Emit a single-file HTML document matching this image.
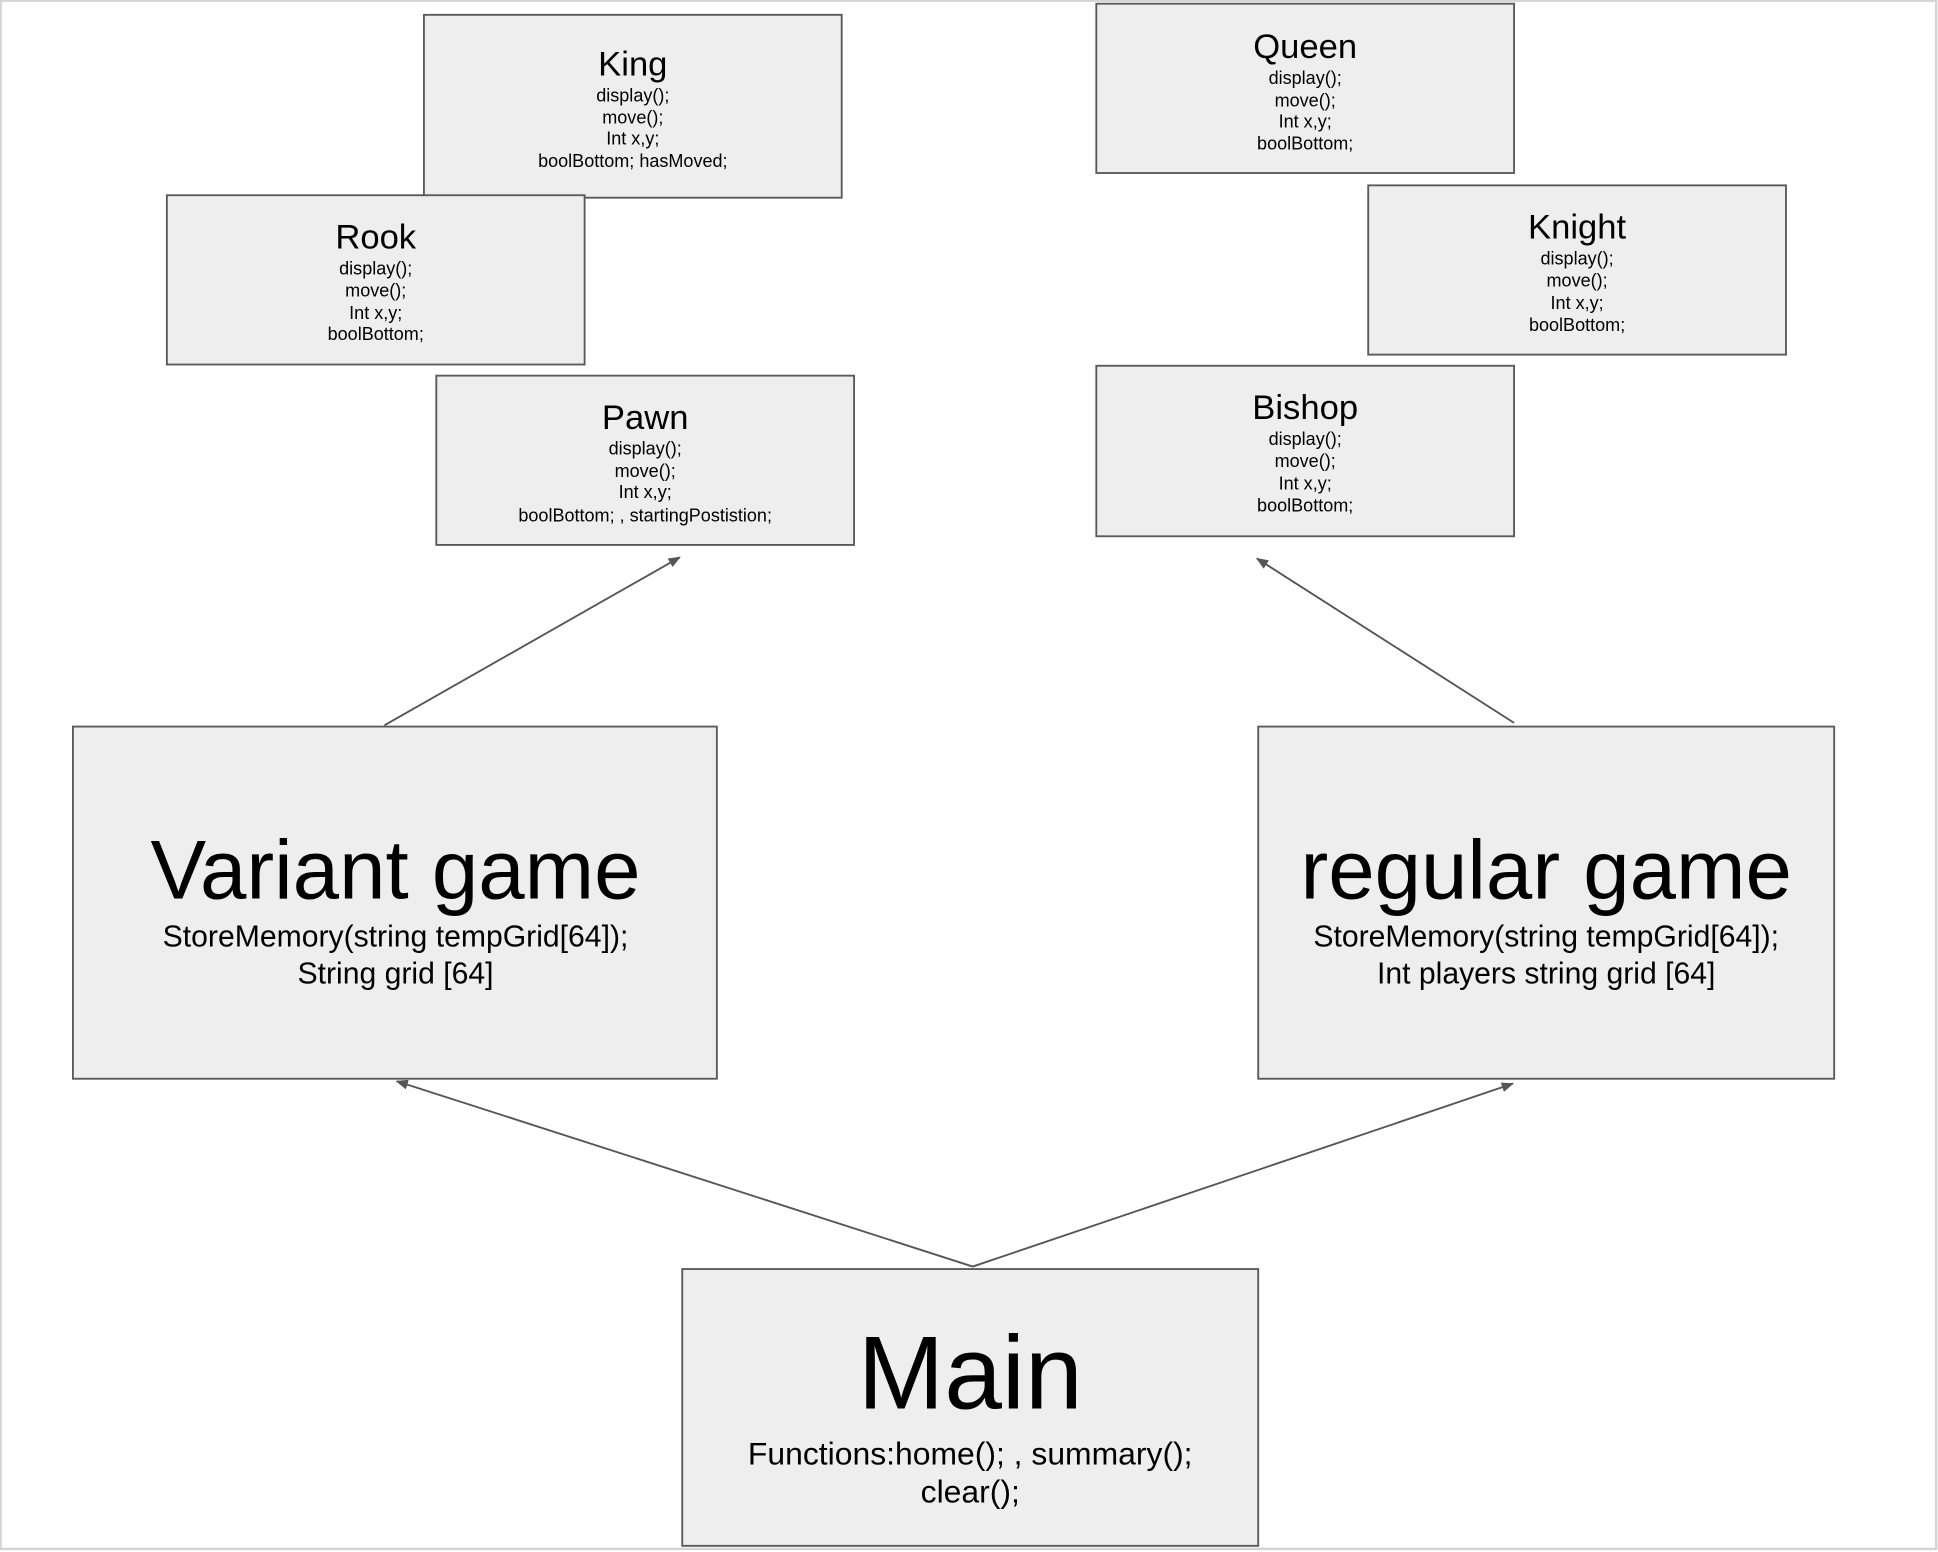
<!DOCTYPE html>
<html><head><meta charset="utf-8"><style>
html,body{margin:0;padding:0;background:#fff;}
svg{display:block;}
text{font-family:"Liberation Sans",Arial,sans-serif;fill:#000;text-anchor:middle;}
</style></head><body>
<svg width="1938" height="1552" viewBox="0 0 1568 1256" preserveAspectRatio="none" xmlns="http://www.w3.org/2000/svg">
<defs><marker id="a" markerWidth="10" markerHeight="8" refX="9" refY="4" orient="auto" markerUnits="userSpaceOnUse"><path d="M0,0 L10,4 L0,8 Z" fill="#555"/></marker></defs>
<rect x="0.5" y="0.5" width="1566" height="1253" fill="#fff" stroke="#d4d4d4" stroke-width="2"/>
<g fill="#eeeeee" stroke="#595959" stroke-width="1.5">
<rect x="343" y="12" width="338" height="148"/>
<rect x="135" y="158" width="338" height="137"/>
<rect x="353" y="304" width="338" height="137"/>
<rect x="887" y="3" width="338" height="137"/>
<rect x="1107" y="150" width="338" height="137"/>
<rect x="887" y="296" width="338" height="138"/>
<rect x="59" y="588" width="521" height="285"/>
<rect x="1018" y="588" width="466" height="285"/>
<rect x="552" y="1027" width="466" height="224"/>
</g>
<g stroke="#555" stroke-width="1.5" marker-end="url(#a)">
<line x1="311" y1="587" x2="550" y2="451"/>
<line x1="1225" y1="585" x2="1017" y2="452"/>
<line x1="787" y1="1025" x2="321" y2="875"/>
<line x1="787" y1="1025" x2="1224" y2="877"/>
</g>
<g font-size="28"><text x="512" y="61">King</text><text x="304" y="201">Rook</text><text x="522" y="347">Pawn</text><text x="1056" y="47">Queen</text><text x="1276" y="193">Knight</text><text x="1056" y="339">Bishop</text></g>
<g font-size="14.6">
<text x="512" y="82">display();</text><text x="512" y="100">move();</text><text x="512" y="117">Int x,y;</text><text x="512" y="135">boolBottom; hasMoved;</text>
<text x="304" y="222">display();</text><text x="304" y="240">move();</text><text x="304" y="258">Int x,y;</text><text x="304" y="275">boolBottom;</text>
<text x="522" y="368">display();</text><text x="522" y="386">move();</text><text x="522" y="403">Int x,y;</text><text x="522" y="422">boolBottom; , startingPostistion;</text>
<text x="1056" y="68">display();</text><text x="1056" y="86">move();</text><text x="1056" y="103">Int x,y;</text><text x="1056" y="121">boolBottom;</text>
<text x="1276" y="214">display();</text><text x="1276" y="232">move();</text><text x="1276" y="250">Int x,y;</text><text x="1276" y="268">boolBottom;</text>
<text x="1056" y="360">display();</text><text x="1056" y="378">move();</text><text x="1056" y="396">Int x,y;</text><text x="1056" y="414">boolBottom;</text>
</g>
<g font-size="67.5"><text x="320" y="727">Variant game</text><text x="1251" y="727">regular game</text></g>
<text x="785" y="1140" font-size="84">Main</text>
<g font-size="24.4">
<text x="320" y="766">StoreMemory(string tempGrid[64]);</text><text x="320" y="796">String grid [64]</text>
<text x="1251" y="766">StoreMemory(string tempGrid[64]);</text><text x="1251" y="796">Int players string grid [64]</text>
</g>
<g font-size="25.8">
<text x="785" y="1185">Functions:home(); , summary();</text><text x="785" y="1216">clear();</text>
</g>
</svg>
</body></html>
